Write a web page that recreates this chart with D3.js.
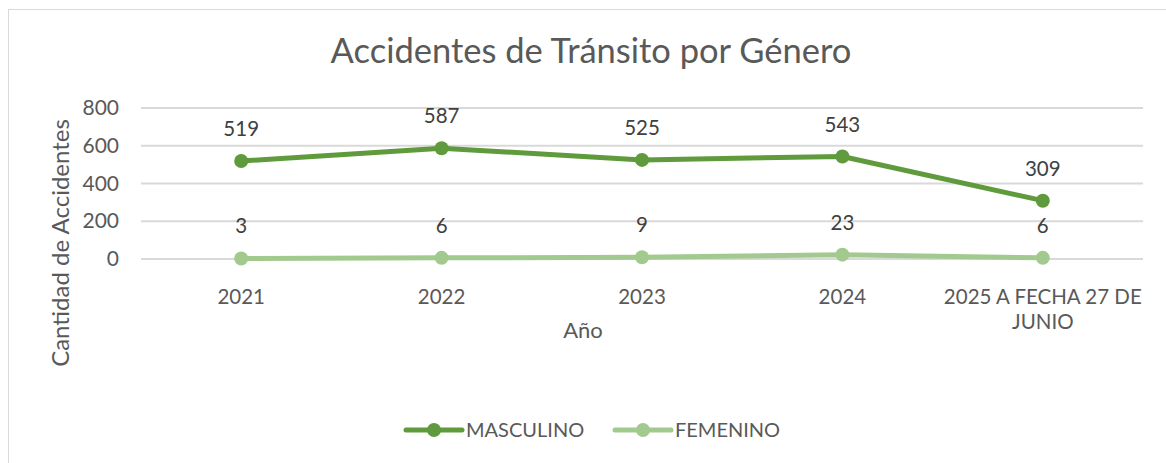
<!DOCTYPE html>
<html lang="es">
<head>
<meta charset="utf-8">
<title>Accidentes de Tránsito por Género</title>
<script src="https://d3js.org/d3.v7.min.js"></script>
<style>
  body { margin: 0; background: #fff; }
  svg text { font-family: Lato, "Open Sans", sans-serif; }
</style>
</head>
<body>
<script>
// data
const years = ["2021", "2022", "2023", "2024", "2025 A FECHA 27 DE JUNIO"];
const masculino = [519, 587, 525, 543, 309];
const femenino = [3, 6, 9, 23, 6];
const yTicks = [0, 200, 400, 600, 800];
const seriesNames = ["MASCULINO", "FEMENINO"];
const seriesColors = ["#5f9a3c", "#a3ca8e"];

const width = 1166, height = 463;
const svg = d3.select("body").append("svg")
  .attr("width", width)
  .attr("height", height);

// chart frame
svg.append("rect")
  .attr("x", 8.5).attr("y", 9.5)
  .attr("width", 1170).attr("height", 470)
  .attr("fill", "#fff")
  .attr("stroke", "#d9d9d9");

const x = d3.scaleBand().domain(years).range([141, 1143]);
const y = d3.scaleLinear().domain([0, 800]).range([259, 108]);

// gridlines
svg.append("g").selectAll("line")
  .data(yTicks).enter().append("line")
  .attr("x1", 141).attr("x2", 1143)
  .attr("y1", d => y(d)).attr("y2", d => y(d))
  .attr("stroke", "#d9d9d9").attr("stroke-width", 2);

// y axis labels
const yAxis = svg.append("g")
  .attr("transform", "translate(119,0)")
  .call(d3.axisLeft(y).tickValues(yTicks).tickSize(0).tickPadding(0));
yAxis.select(".domain").remove();
yAxis.selectAll("text")
  .attr("font-size", 21).attr("fill", "#595959")
  .style("font-family", "Lato, sans-serif");

// x axis labels (last one wraps)
const xAxis = svg.append("g")
  .attr("transform", "translate(0,259)")
  .call(d3.axisBottom(x).tickSize(0).tickPadding(0).tickFormat(""));
xAxis.select(".domain").remove();
xAxis.selectAll(".tick").each(function(d) {
  const t = d3.select(this).append("text")
    .attr("text-anchor", "middle")
    .attr("font-size", 20.5).attr("fill", "#595959");
  const lines = d === years[4] ? ["2025 A FECHA 27 DE", "JUNIO"] : [d];
  lines.forEach((s, i) => {
    t.append("tspan").attr("x", 0).attr("y", 45 + i * 25).text(s);
  });
});

// lines + markers
const series = [masculino, femenino];
const line = d3.line()
  .x((d, i) => x(years[i]) + x.bandwidth() / 2)
  .y(d => y(d));

series.forEach((vals, s) => {
  svg.append("path")
    .datum(vals)
    .attr("d", line)
    .attr("fill", "none")
    .attr("stroke", seriesColors[s])
    .attr("stroke-width", 5)
    .attr("stroke-linecap", "round")
    .attr("stroke-linejoin", "round");

  svg.append("g").selectAll("circle")
    .data(vals).enter().append("circle")
    .attr("cx", (d, i) => x(years[i]) + x.bandwidth() / 2)
    .attr("cy", d => y(d))
    .attr("r", 7)
    .attr("fill", seriesColors[s]);

  svg.append("g").selectAll("text")
    .data(vals).enter().append("text")
    .attr("x", (d, i) => x(years[i]) + x.bandwidth() / 2)
    .attr("y", d => y(d) - 25)
    .attr("text-anchor", "middle")
    .attr("font-size", 20.5)
    .attr("fill", "#404040")
    .text(d => d);
});

// title
svg.append("text")
  .attr("x", 591).attr("y", 63)
  .attr("text-anchor", "middle")
  .attr("font-size", 34.5)
  .attr("fill", "#595959")
  .text("Accidentes de Tránsito por Género");

// axis titles
svg.append("text")
  .attr("x", 583).attr("y", 338)
  .attr("text-anchor", "middle")
  .attr("font-size", 22)
  .attr("fill", "#595959")
  .text("Año");

svg.append("text")
  .attr("transform", "translate(69,243) rotate(-90)")
  .attr("text-anchor", "middle")
  .attr("font-size", 24)
  .attr("fill", "#595959")
  .text("Cantidad de Accidentes");

// legend
const legendX = [406, 615];
seriesNames.forEach((name, s) => {
  const g = svg.append("g").attr("transform", `translate(${legendX[s]},430)`);
  g.append("line")
    .attr("x1", 0).attr("x2", 56)
    .attr("stroke", seriesColors[s]).attr("stroke-width", 5)
    .attr("stroke-linecap", "round");
  g.append("circle").attr("cx", 28).attr("r", 7).attr("fill", seriesColors[s]);
  g.append("text")
    .attr("x", 60).attr("y", 7)
    .attr("font-size", 20)
    .attr("fill", "#595959")
    .text(name);
});
</script>
</body>
</html>
